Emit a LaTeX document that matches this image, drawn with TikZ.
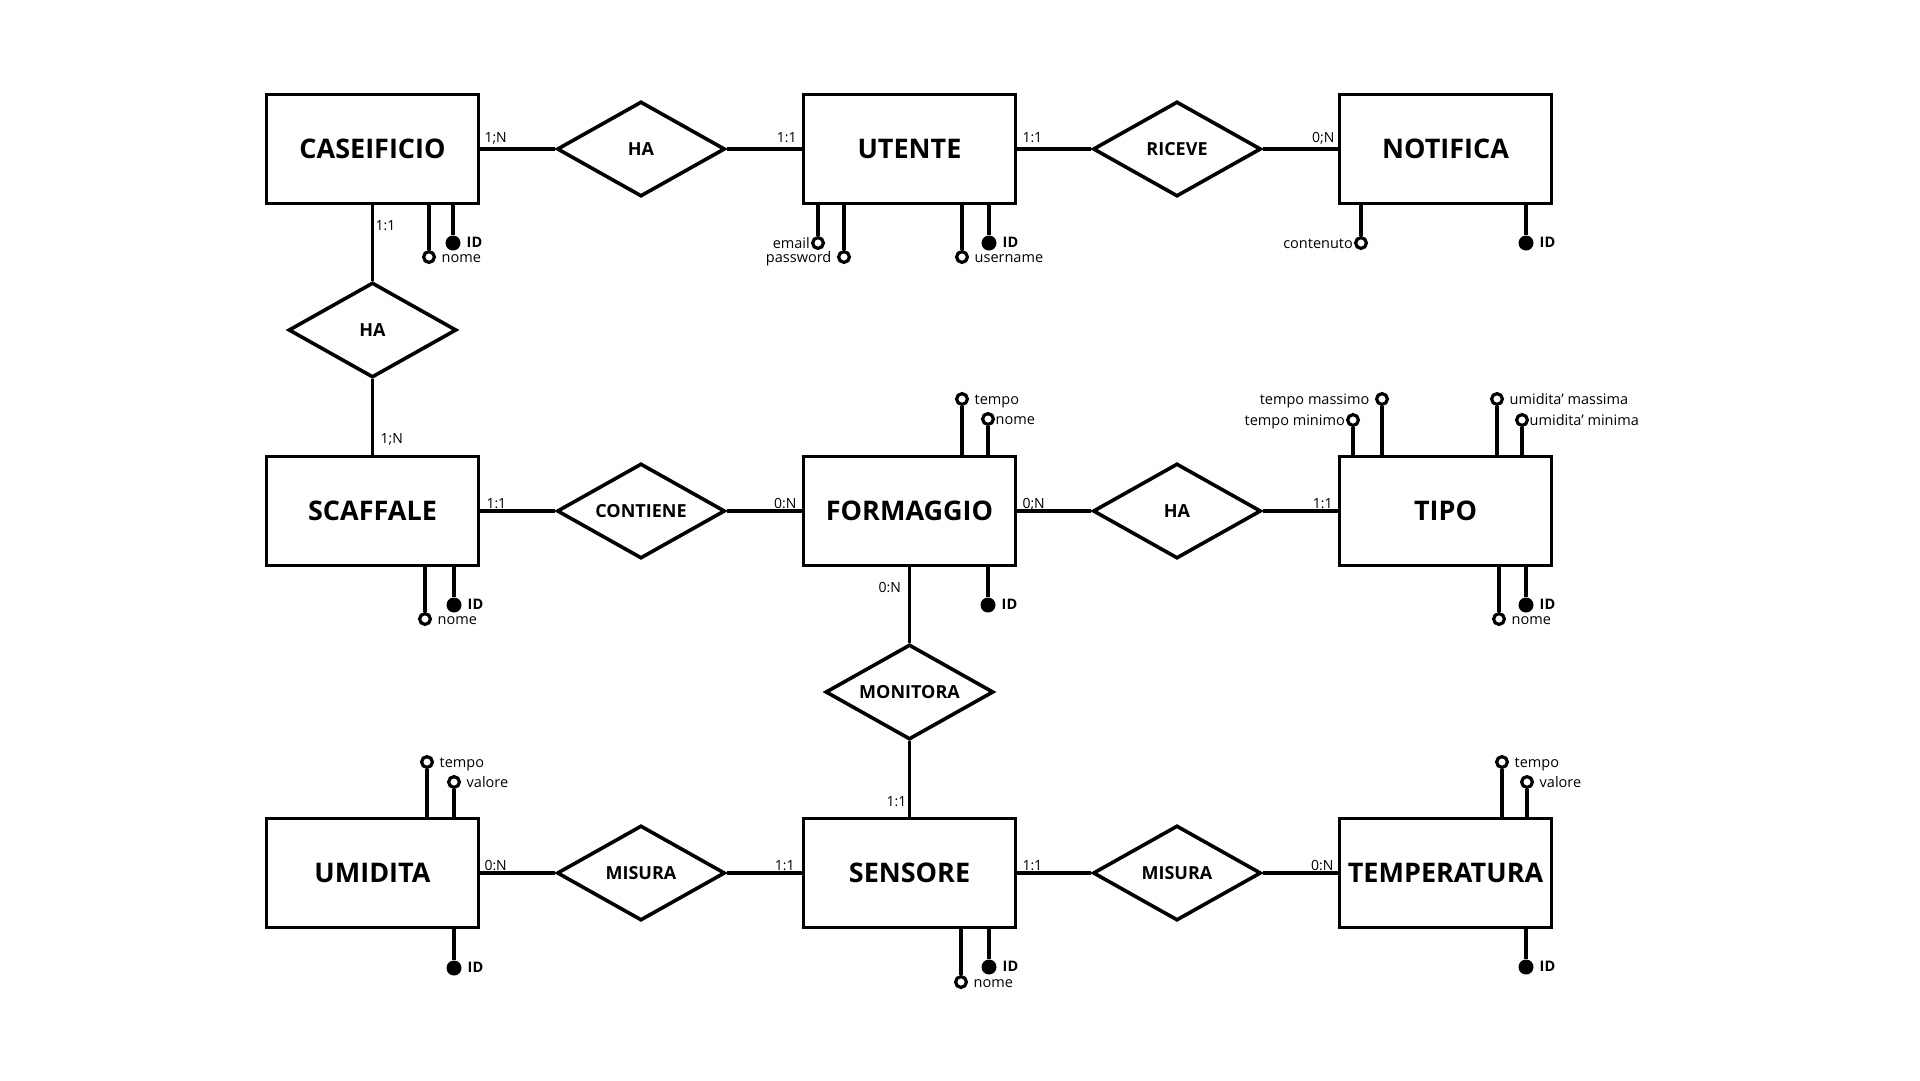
\documentclass[tikz,border=0pt]{standalone}
\usepackage{fontspec}
\setmainfont{Open Sans}
\usetikzlibrary{shapes.geometric,calc}
\newcommand{\erattr}[7]{%
  \node[#3] (#1) at (#4,#5) {};
  \draw[link] (#1) -- (#1 |- #2);
  \node[#6] at (#1) {#7};
}
\begin{document}
\begin{tikzpicture}[x=1pt,y=-1pt,
  entity/.style={draw, line width=3.6pt, rectangle, minimum width=212pt, minimum height=109pt, inner sep=0pt, font=\fontsize{27}{32}\selectfont\bfseries},
  rel/.style={draw, line width=3.6pt, diamond, minimum width=168pt, minimum height=95pt, aspect=1.77, inner sep=1pt, font=\fontsize{18}{22}\selectfont\bfseries},
  link/.style={line width=3.6pt},
  opn/.style={circle, draw, fill=white, line width=3.2pt, minimum size=10.8pt, inner sep=0pt},
  key/.style={circle, fill=black, minimum size=15pt, inner sep=0pt},
  lab/.style={inner sep=0pt, font=\fontsize{14.5}{16}\selectfont},
  keylab/.style={inner sep=0pt, font=\fontsize{14.5}{16}\selectfont\bfseries},
  card/.style={inner sep=0pt, font=\fontsize{14}{16}\selectfont},
  rl/.style={lab, anchor=mid west, xshift=12.5pt, yshift=-2.5pt},
  rl0/.style={lab, anchor=mid west, xshift=7.5pt, yshift=-2.5pt},
  rk/.style={keylab, anchor=mid west, xshift=13.5pt, yshift=-1.5pt},
  ll/.style={lab, anchor=mid east, xshift=-12.5pt, yshift=-2.5pt},
  ll0/.style={lab, anchor=mid east, xshift=-8pt, yshift=-2.5pt},
]
\fill[white] (0,0) rectangle (1920,1080);
\useasboundingbox (0,0) rectangle (1920,1080);

% entities
\node[entity] (cas) at (372.5,149) {CASEIFICIO};
\node[entity] (ute) at (909.5,149) {UTENTE};
\node[entity] (notif) at (1445.5,149) {NOTIFICA};
\node[entity] (sca) at (372.5,511) {SCAFFALE};
\node[entity] (form) at (909.5,511) {FORMAGGIO};
\node[entity] (tip) at (1445.5,511) {TIPO};
\node[entity] (umi) at (372.5,873) {UMIDITA};
\node[entity] (sen) at (909.5,873) {SENSORE};
\node[entity] (tem) at (1445.5,873) {TEMPERATURA};

% relationships
\node[rel] (ha1) at (641,149) {HA};
\node[rel] (ric) at (1177,149) {RICEVE};
\node[rel] (ha2) at (372.5,330) {HA};
\node[rel] (con) at (641,511) {CONTIENE};
\node[rel] (ha3) at (1177,511) {HA};
\node[rel] (mon) at (909.5,692) {MONITORA};
\node[rel] (mis1) at (641,873) {MISURA};
\node[rel] (mis2) at (1177,873) {MISURA};

% connectors
\draw[link] (cas) -- (ha1);
\draw[link] (ha1) -- (ute);
\draw[link] (ute) -- (ric);
\draw[link] (ric) -- (notif);
\draw[link] (cas) -- (ha2);
\draw[link] (ha2) -- (sca);
\draw[link] (sca) -- (con);
\draw[link] (con) -- (form);
\draw[link] (form) -- (ha3);
\draw[link] (ha3) -- (tip);
\draw[link] (form) -- (mon);
\draw[link] (mon) -- (sen);
\draw[link] (umi) -- (mis1);
\draw[link] (mis1) -- (sen);
\draw[link] (sen) -- (mis2);
\draw[link] (mis2) -- (tem);

% cardinalities
\node[card, anchor=base west] at ($(cas.east)+(4,-7)$) {1;N};
\node[card, anchor=base east] at ($(ute.west)+(-5,-7)$) {1:1};
\node[card, anchor=base west] at ($(ute.east)+(5,-7)$) {1:1};
\node[card, anchor=base east] at ($(notif.west)+(-3,-7)$) {0;N};
\node[card, anchor=base west] at ($(cas.south)+(3,25)$) {1:1};
\node[card, anchor=base west] at ($(sca.north)+(8,-11)$) {1;N};
\node[card, anchor=base west] at ($(sca.east)+(6,-3)$) {1:1};
\node[card, anchor=base east] at ($(form.west)+(-5,-3)$) {0:N};
\node[card, anchor=base west] at ($(form.east)+(5,-3)$) {0;N};
\node[card, anchor=base east] at ($(tip.west)+(-5,-3)$) {1:1};
\node[card, anchor=base east] at ($(form.south)+(-8.5,25)$) {0:N};
\node[card, anchor=base east] at ($(sen.north)+(-3,-10)$) {1:1};
\node[card, anchor=base west] at ($(umi.east)+(4,-3)$) {0:N};
\node[card, anchor=base east] at ($(sen.west)+(-7,-3)$) {1:1};
\node[card, anchor=base west] at ($(sen.east)+(5,-3)$) {1:1};
\node[card, anchor=base east] at ($(tem.west)+(-4,-3)$) {0:N};

% attributes
\erattr{cas-nome}{cas.south}{opn}{429}{257}{rl}{nome}
\erattr{cas-id}{cas.south}{key}{453}{243}{rk}{ID}
\erattr{ute-email}{ute.south}{opn}{818}{243}{ll0}{email}
\erattr{ute-pw}{ute.south}{opn}{844}{257}{ll}{password}
\erattr{ute-user}{ute.south}{opn}{962}{257}{rl}{username}
\erattr{ute-id}{ute.south}{key}{989}{243}{rk}{ID}
\erattr{not-cont}{notif.south}{opn}{1361}{243}{ll0}{contenuto}
\erattr{not-id}{notif.south}{key}{1526}{243}{rk}{ID}
\erattr{sca-nome}{sca.south}{opn}{425}{619}{rl}{nome}
\erattr{sca-id}{sca.south}{key}{454}{605}{rk}{ID}
\erattr{for-tempo}{form.north}{opn}{962}{399}{rl}{tempo}
\erattr{for-nome}{form.north}{opn}{988}{419}{rl0}{nome}
\erattr{for-id}{form.south}{key}{988}{605}{rk}{ID}
\erattr{tip-tmin}{tip.north}{opn}{1353}{420}{ll0}{tempo minimo}
\erattr{tip-tmax}{tip.north}{opn}{1382}{399}{ll}{tempo massimo}
\erattr{tip-umax}{tip.north}{opn}{1497}{399}{rl}{umidita’ massima}
\erattr{tip-umin}{tip.north}{opn}{1522}{420}{rl0}{umidita’ minima}
\erattr{tip-nome}{tip.south}{opn}{1499}{619}{rl}{nome}
\erattr{tip-id}{tip.south}{key}{1526}{605}{rk}{ID}
\erattr{umi-tempo}{umi.north}{opn}{427}{762}{rl}{tempo}
\erattr{umi-val}{umi.north}{opn}{454}{782}{rl}{valore}
\erattr{umi-id}{umi.south}{key}{454}{968}{rk}{ID}
\erattr{sen-nome}{sen.south}{opn}{961}{982}{rl}{nome}
\erattr{sen-id}{sen.south}{key}{989}{967}{rk}{ID}
\erattr{tem-tempo}{tem.north}{opn}{1502}{762}{rl}{tempo}
\erattr{tem-val}{tem.north}{opn}{1527}{782}{rl}{valore}
\erattr{tem-id}{tem.south}{key}{1526}{967}{rk}{ID}
\end{tikzpicture}
\end{document}
